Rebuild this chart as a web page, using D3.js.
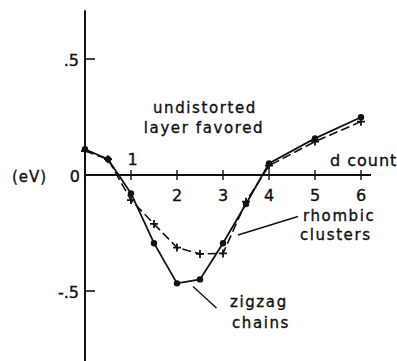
<!DOCTYPE html>
<html>
<head>
<meta charset="utf-8">
<script src="https://cdn.jsdelivr.net/npm/d3@7"></script>
<style>
  html, body { margin: 0; padding: 0; background: #fff; }
  svg { display: block; }
  text { font-family: "DejaVu Sans", sans-serif; fill: #111; stroke: #111; stroke-width: 0.35; }
</style>
</head>
<body>
<svg id="chart" width="397" height="361"></svg>
<script>
// d-electron count along the x axis
const dCount = [0, 0.5, 1, 1.5, 2, 2.5, 3, 3.5, 4, 5, 6];
// energy difference (eV) for each distortion type
const zigzagChains   = [0.111, 0.068, -0.079, -0.294, -0.467, -0.450, -0.294, -0.125, 0.050, 0.158, 0.249];
const rhombicClusters = [0.103, 0.068, -0.108, -0.211, -0.313, -0.340, -0.338, -0.115, 0.040, 0.144, 0.230];
// axis ticks
const xTicks = [1, 2, 3, 4, 5, 6];
const yTicks = [0.5, -0.5];
const yTickLabels = [".5", "-.5"];

const svg = d3.select("#chart");
const ink = "#111";

const x = d3.scaleLinear().domain([0, 6]).range([85, 361]);
const y = d3.scaleLinear().domain([-0.5, 0.5]).range([291, 59]);

// y axis line
svg.append("line")
  .attr("x1", x(0)).attr("x2", x(0))
  .attr("y1", y(0.71)).attr("y2", 361)
  .attr("stroke", ink).attr("stroke-width", 2);

// y ticks point inward
svg.selectAll(".ytick").data(yTicks).join("line")
  .attr("x1", x(0)).attr("x2", x(0) + 10)
  .attr("y1", d => y(d)).attr("y2", d => y(d))
  .attr("stroke", ink).attr("stroke-width", 1.6);

svg.selectAll(".ylab").data(yTicks).join("text")
  .attr("x", 79).attr("y", d => y(d) + 6.5)
  .attr("text-anchor", "end")
  .attr("font-size", 16)
  .text((d, i) => yTickLabels[i]);

svg.append("text").attr("x", 80).attr("y", y(0) + 6.5)
  .attr("text-anchor", "end").attr("font-size", 16).text("0");
svg.append("text").attr("x", 12).attr("y", y(0) + 6.5)
  .attr("font-size", 15).attr("letter-spacing", 1).text("(eV)");

// x axis line
svg.append("line")
  .attr("x1", x(0)).attr("x2", 371)
  .attr("y1", y(0)).attr("y2", y(0))
  .attr("stroke", ink).attr("stroke-width", 1.8);

svg.selectAll(".xtick").data(xTicks).join("line")
  .attr("x1", d => x(d)).attr("x2", d => x(d))
  .attr("y1", y(0) - 5).attr("y2", y(0) + 5)
  .attr("stroke", ink).attr("stroke-width", 1.4);

// label "1" sits above the axis, the rest below
svg.selectAll(".xlab").data(xTicks).join("text")
  .attr("x", d => x(d) + (d === 1 ? 1.5 : 0))
  .attr("y", d => d === 1 ? y(0) - 10 : y(0) + 26)
  .attr("text-anchor", "middle")
  .attr("font-size", 16)
  .text(d => d);

svg.append("text").attr("x", 330).attr("y", 166)
  .attr("font-size", 16).attr("letter-spacing", 1).text("d count");

// curves
const line = d3.line().x((d, i) => x(dCount[i])).y(d => y(d));

svg.append("path").datum(rhombicClusters)
  .attr("d", line)
  .attr("fill", "none").attr("stroke", ink)
  .attr("stroke-width", 1.6).attr("stroke-dasharray", "9,4");

svg.append("path").datum(zigzagChains)
  .attr("d", line)
  .attr("fill", "none").attr("stroke", ink)
  .attr("stroke-width", 1.8);

// cross markers on the rhombic cluster curve
svg.selectAll(".cross").data(rhombicClusters).join("path")
  .attr("transform", (d, i) => `translate(${x(dCount[i])},${y(d)})`)
  .attr("d", d3.symbol().type({
    draw(ctx, size) {
      const r = Math.sqrt(size) / 2;
      ctx.moveTo(-r, 0); ctx.lineTo(r, 0);
      ctx.moveTo(0, -r); ctx.lineTo(0, r);
    }
  }).size(64))
  .attr("fill", "none").attr("stroke", ink).attr("stroke-width", 1.8);

// dot markers on the zigzag chain curve
svg.selectAll(".dot").data(zigzagChains).join("circle")
  .attr("cx", (d, i) => x(dCount[i]))
  .attr("cy", d => y(d))
  .attr("r", 3.2)
  .attr("fill", ink);

// annotations
const note = (tx, ty, s, anchor) => svg.append("text")
  .attr("x", tx).attr("y", ty)
  .attr("text-anchor", anchor || "start")
  .attr("font-size", 15).attr("letter-spacing", 1.6)
  .text(s);

note(205, 113, "undistorted", "middle");
note(204, 133, "layer favored", "middle");
note(303, 221, "rhombic");
note(300, 240, "clusters");
note(230, 307, "zigzag");
note(232, 328, "chains");

// leader lines
svg.append("line").attr("x1", 298).attr("y1", 216.5).attr("x2", 238).attr("y2", 235)
  .attr("stroke", ink).attr("stroke-width", 1.4);
svg.append("line").attr("x1", 193).attr("y1", 286.5).attr("x2", 216.5).attr("y2", 308)
  .attr("stroke", ink).attr("stroke-width", 1.4);
</script>
</body>
</html>
